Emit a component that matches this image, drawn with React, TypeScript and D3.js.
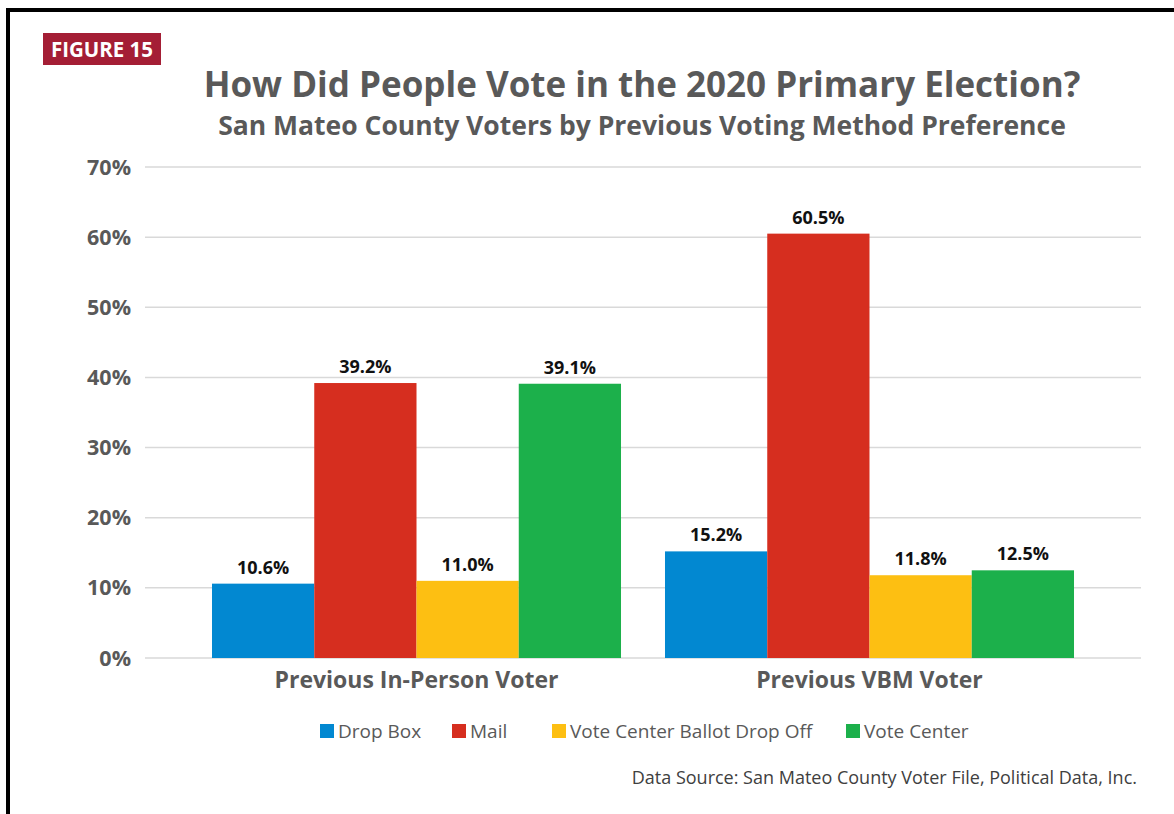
import React from "react";
import * as d3 from "d3";

const categories = ["Previous In-Person Voter", "Previous VBM Voter"];
const seriesNames = ["Drop Box", "Mail", "Vote Center Ballot Drop Off", "Vote Center"];
const seriesColors = ["#0288d1", "#d62e1f", "#fdbf12", "#1cb04b"];
const dropBox = [10.6, 15.2];
const mail = [39.2, 60.5];
const ballotDropOff = [11.0, 11.8];
const voteCenter = [39.1, 12.5];
const yTicks = [0, 10, 20, 30, 40, 50, 60, 70];

const W = 1174;
const H = 814;
const FONT = "'Open Sans', 'Noto Sans', sans-serif";
const GRAY = "#595959";

export default function App() {
  const values = [dropBox, mail, ballotDropOff, voteCenter];
  const x0 = d3.scaleBand<string>().domain(categories).range([145, 1141]).paddingInner(0.0971).paddingOuter(0.1479);
  const x1 = d3.scaleBand<string>().domain(seriesNames).range([0, x0.bandwidth()]);
  const y = d3.scaleLinear().domain([0, 70]).range([658, 167]);

  const legendX = [320, 452, 552, 846];

  return (
    <svg width={W} height={H} style={{ position: "absolute", left: 0, top: 0 }} fontFamily={FONT}>
      <rect x={0} y={0} width={W} height={H} fill="#fff" />
      <path d={`M8,${H} L8,10 L${W},10`} fill="none" stroke="#000" strokeWidth={4} />
      <rect x={43} y={33} width={118} height={32} fill="#a41e35" />
      <text x={102} y={57} textAnchor="middle" fill="#fff" fontWeight={700} fontSize={20.5}>FIGURE 15</text>
      <text x={642} y={97} textAnchor="middle" fill={GRAY} fontWeight={700} fontSize={35}>How Did People Vote in the 2020 Primary Election?</text>
      <text x={642} y={135} textAnchor="middle" fill={GRAY} fontWeight={700} fontSize={26.5}>San Mateo County Voters by Previous Voting Method Preference</text>
      {yTicks.map((t) => (
        <g key={t}>
          <line x1={145} x2={1141} y1={y(t)} y2={y(t)} stroke="#d9d9d9" strokeWidth={1.5} />
          <text x={131} y={y(t)} dy="0.35em" textAnchor="end" fill={GRAY} fontWeight={700} fontSize={21.5}>{t}%</text>
        </g>
      ))}
      {categories.map((c, ci) => (
        <g key={c} transform={`translate(${x0(c)},0)`}>
          {seriesNames.map((s, si) => {
            const v = values[si][ci];
            const bx = x1(s) as number;
            return (
              <g key={s}>
                <rect x={bx} y={y(v)} width={x1.bandwidth()} height={y(0) - y(v)} fill={seriesColors[si]} />
                <text x={bx + x1.bandwidth() / 2} y={y(v) - 10} textAnchor="middle" fill="#111" fontWeight={700} fontSize={18}>{v.toFixed(1)}%</text>
              </g>
            );
          })}
          <text x={x0.bandwidth() / 2} y={688} textAnchor="middle" fill={GRAY} fontWeight={700} fontSize={23}>{c}</text>
        </g>
      ))}
      {seriesNames.map((s, si) => (
        <g key={s}>
          <rect x={legendX[si]} y={724} width={14} height={14} fill={seriesColors[si]} />
          <text x={legendX[si] + 18} y={738} fill={GRAY} fontSize={19}>{s}</text>
        </g>
      ))}
      <text x={1137} y={784} textAnchor="end" fill="#404040" fontSize={18}>Data Source: San Mateo County Voter File, Political Data, Inc.</text>
    </svg>
  );
}
